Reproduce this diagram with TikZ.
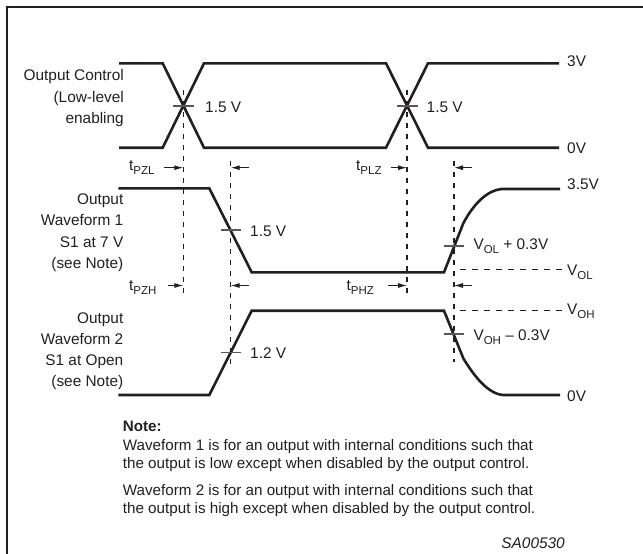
\documentclass[tikz,border=0pt]{standalone}
\usepackage{fontspec}
\setmainfont{Liberation Sans}
\usetikzlibrary{arrows.meta}
\definecolor{ink}{RGB}{35,31,32}
\newcommand\sbs[1]{\raisebox{-0.28em}{\fontsize{11.5}{11.5}\selectfont #1}}
\begin{document}
\begin{tikzpicture}[x=1pt,y=-1pt,
  every node/.style={font=\fontsize{15.4}{21.2}\selectfont, inner sep=0pt, text=ink},
  wave/.style={line width=2.6pt, draw=ink, line join=miter},
  guide/.style={line width=1.1pt, draw=ink, dash pattern=on 5pt off 6pt},
  hguide/.style={line width=1pt, draw=ink, dash pattern=on 6pt off 6pt},
  tick/.style={line width=1.1pt, draw=ink!75},
  tarrow/.style={line width=1pt, draw=ink, -{Latex[length=9pt,width=5pt]}},
  lbl/.style={anchor=base west},
  side/.style={anchor=base east, align=right},
  note/.style={anchor=base west, align=left, font=\fontsize{15.2}{18}\selectfont}]
\useasboundingbox (0,0) rectangle (643,554);
% frame
\draw[line width=2.4pt, draw=ink] (7,560) -- (7,7) -- (650,7);

% ---- Output control ----
\draw[wave] (119,63.3) -- (162.7,63.3) -- (204,147.7) -- (386,147.7) -- (428,63.3) -- (559,63.3);
\draw[wave] (119,147.7) -- (162.7,147.7) -- (204,63.3) -- (386,63.3) -- (428,147.7) -- (559,147.7);

% ---- Waveform 1 ----
\draw[wave] (118.3,188.3) -- (209.3,188.3) -- (251.7,272.3) -- (444,272.3)
  -- (463.3,223.3) .. controls (474,203) and (488,190) .. (501.7,189) -- (560,189);
% ---- Waveform 2 ----
\draw[wave] (118.3,395) -- (209.3,395) -- (251.7,310.7) -- (444,310.7)
  -- (463.3,358.3) .. controls (474,376) and (488,394) .. (503.3,395) -- (560,395);

% dashed guides
\coordinate (d1t) at (183.3,90);  \coordinate (d1b) at (183.3,298);
\coordinate (d2t) at (230.7,161); \coordinate (d2b) at (230.7,365);
\coordinate (d3t) at (407,90);    \coordinate (d3b) at (407,297);
\coordinate (d4t) at (454,161);   \coordinate (d4b) at (454,362);
\draw[guide] (d1t) -- (d1b);
\draw[guide] (d2t) -- (d2b);
\draw[guide] (d3t) -- (d3b);
\draw[guide] (d4t) -- (d4b);

% horizontal dashed levels
\coordinate (volA) at (460,269.5); \coordinate (volB) at (563,269.5);
\coordinate (vohA) at (460,310);   \coordinate (vohB) at (563,310);
\draw[hguide] (volA) -- (volB);
\draw[hguide] (vohA) -- (vohB);

% crossing ticks
\draw[tick] (173,106) -- (193.5,106);
\draw[tick] (397,106) -- (417.5,106);
\draw[tick] (220.5,230) -- (241,230);
\draw[tick] (220.5,352.3) -- (241,352.3);
\draw[tick] (444,246) -- (463.5,246);
\draw[tick] (444,334) -- (463.5,334);

% timing labels and arrows
\node[lbl] (tpzl) at (129,170.5) {t\sbs{PZL}};
\node[lbl] (tpzh) at (129,290) {t\sbs{PZH}};
\node[lbl] (tplz) at (356,170.5) {t\sbs{PLZ}};
\node[lbl] (tphz) at (346.5,290) {t\sbs{PHZ}};
\coordinate (a1s) at (164,167.7); \coordinate (a1e) at (183.3,167.7);
\coordinate (a2s) at (249,167.7); \coordinate (a2e) at (230.7,167.7);
\coordinate (a3s) at (168,285.5); \coordinate (a3e) at (183.3,285.5);
\coordinate (a4s) at (249,285.5); \coordinate (a4e) at (230.7,285.5);
\coordinate (a5s) at (391,167.7); \coordinate (a5e) at (407,167.7);
\coordinate (a6s) at (472,167.7); \coordinate (a6e) at (454,167.7);
\coordinate (a7s) at (388,285.5); \coordinate (a7e) at (407,285.5);
\coordinate (a8s) at (472,285.5); \coordinate (a8e) at (454,285.5);
\foreach \s/\e in {a1s/a1e,a2s/a2e,a3s/a3e,a4s/a4e,a5s/a5e,a6s/a6e,a7s/a7e,a8s/a8e}
  \draw[tarrow] (\s) -- (\e);

% level / crossing labels
\node[lbl] (c1) at (205,112.5) {1.5 V};
\node[lbl] (c2) at (426.5,112.5) {1.5 V};
\node[lbl] (c3) at (250,236) {1.5 V};
\node[lbl] (c4) at (250,358.3) {1.2 V};
\node[lbl] (v3) at (567,66) {3V};
\node[lbl] (v0a) at (567,153.3) {0V};
\node[lbl] (v35) at (567,189.3) {3.5V};
\node[lbl] (v0b) at (567,401.5) {0V};
\node[lbl] (vol) at (567,275) {V\sbs{OL}};
\node[lbl] (voh) at (567,314) {V\sbs{OH}};
\node[lbl] (volp) at (473.3,249.5) {V\sbs{OL} + 0.3V};
\node[lbl] (vohm) at (473.3,340) {V\sbs{OH} -- 0.3V};

% side labels (base anchor = last line's baseline)
\node[side] (sc) at (124,123.3) {Output Control\\(Low-level\\enabling};
\node[side] (s1) at (123.5,268.3) {Output\\Waveform 1\\S1 at 7 V\\(see Note)};
\node[side] (s2) at (123.5,386.7) {Output\\Waveform 2\\S1 at Open\\(see Note)};

% note
\node[note] (nt) at (122.7,431.7) {\bfseries Note:};
\node[note] (n1) at (122.7,468.5) {Waveform 1 is for an output with internal conditions such that\\the output is low except when disabled by the output control.};
\node[note] (n2) at (122.7,513.3) {Waveform 2 is for an output with internal conditions such that\\the output is high except when disabled by the output control.};
\node[anchor=base east, font=\fontsize{15.4}{18}\selectfont\itshape] (sa) at (565,548.3) {SA00530};
\end{tikzpicture}
\end{document}
